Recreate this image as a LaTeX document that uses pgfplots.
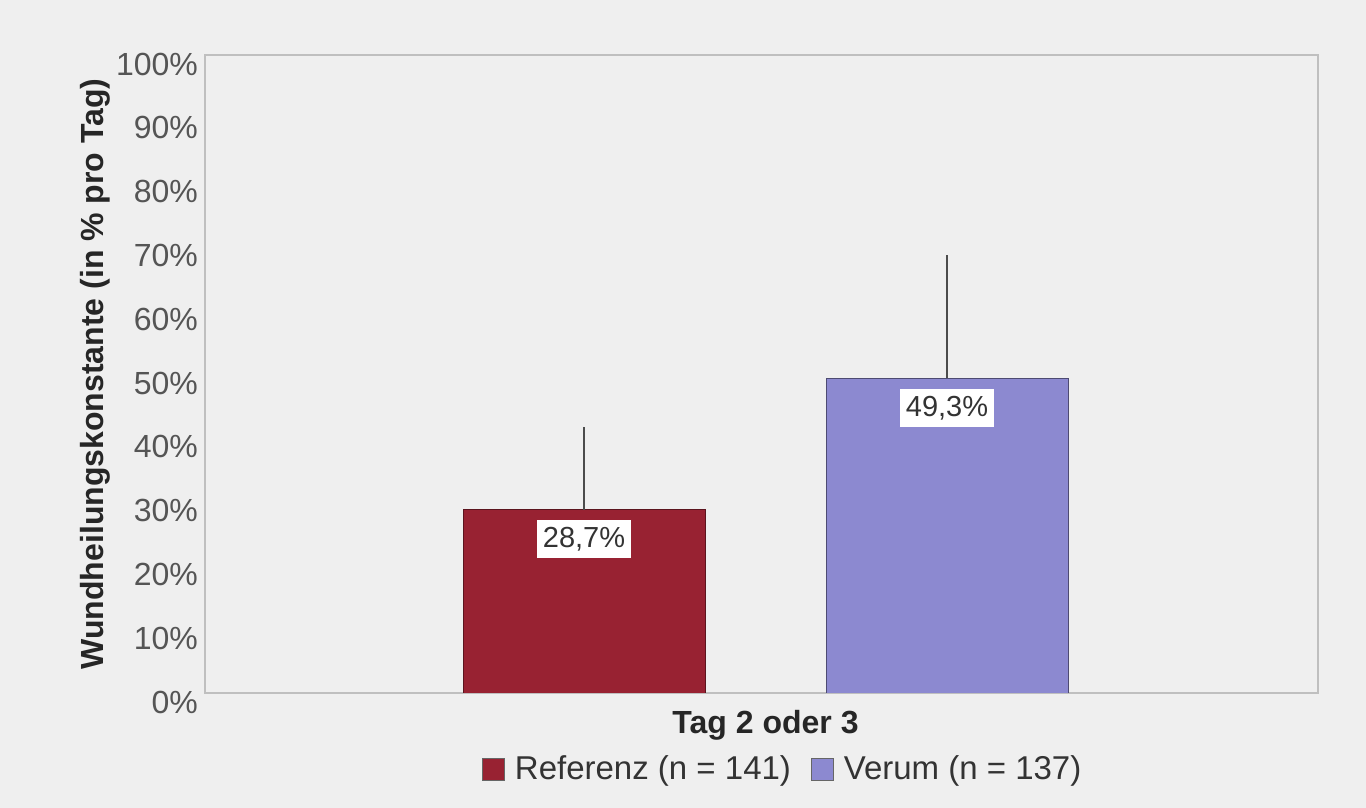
\documentclass[border=0pt]{standalone}
\usepackage{fontspec}
\setmainfont{Liberation Sans}
\usepackage{pgfplots}
\pgfplotsset{compat=1.18}

\definecolor{bg}{RGB}{239,239,239}
\definecolor{refred}{RGB}{152,34,50}
\definecolor{verblue}{RGB}{140,137,208}
\definecolor{ticktxt}{RGB}{85,85,85}

\newcommand{\chartfont}{\fontsize{16}{19}\selectfont}

\begin{document}
\begin{tikzpicture}
% whole-picture background, 1366x808 px at 0.5pt/px
\fill[bg] (0pt,0pt) rectangle (683pt,404pt);
\begin{axis}[
    at={(102.5pt,57.5pt)}, anchor=south west,
    scale only axis,
    width=556.5pt, height=319pt,
    xmin=-0.044, xmax=3.022,
    ymin=0, ymax=100,
    axis background/.style={fill=bg},
    axis line style={draw=gray!50, line width=0.7pt},
    major tick length=0pt,
    ytick={0,10,...,100},
    yticklabel={\pgfmathprintnumber{\tick}\%},
    yticklabel style={font=\chartfont, text=ticktxt, yshift=-4.5pt, xshift=0pt},
    xtick={1.5},
    xticklabels={Tag 2 oder 3},
    xticklabel style={font=\chartfont\bfseries, text=black!85, yshift=-5pt},
    ylabel={Wundheilungskonstante (in \% pro Tag)},
    ylabel style={font=\chartfont\bfseries, text=black!85, yshift=-4pt},
    /pgf/number format/assume math mode=true,
    ybar, bar width=121pt, bar shift=0pt,
    nodes near coords={\pgfmathprintnumber[fixed,fixed zerofill,precision=1,use comma]{\pgfplotspointmeta}\%},
    nodes near coords align={anchor=north},
    every node near coord/.append style={fill=white, text=black!80,
        font=\fontsize{14.5}{17}\selectfont, inner xsep=3pt, inner ysep=3.5pt, yshift=-5pt},
    error bars/y dir=plus, error bars/y explicit,
    error bars/error mark=none,
    error bars/error bar style={draw=gray!60!black, line width=0.9pt},
    legend columns=2,
    legend style={at={(0.52,-0.085)}, anchor=north, draw=none, fill=none,
        font=\fontsize{16.5}{19}\selectfont, text=black!80,
        /tikz/every odd column/.append style={column sep=3pt},
        /tikz/every even column/.append style={column sep=8pt}},
    legend image code/.code={\draw[#1, draw=black!60] (0pt,-5.5pt) rectangle (11pt,5.5pt);},
]
\addplot[fill=refred, draw=refred!60!black] coordinates {(1,28.7) +- (0,13.0)};
\addlegendentry{Referenz (n = 141)}
\addplot[fill=verblue, draw=verblue!55!black] coordinates {(2,49.3) +- (0,19.3)};
\addlegendentry{Verum (n = 137)}
\end{axis}
\end{tikzpicture}
\end{document}
